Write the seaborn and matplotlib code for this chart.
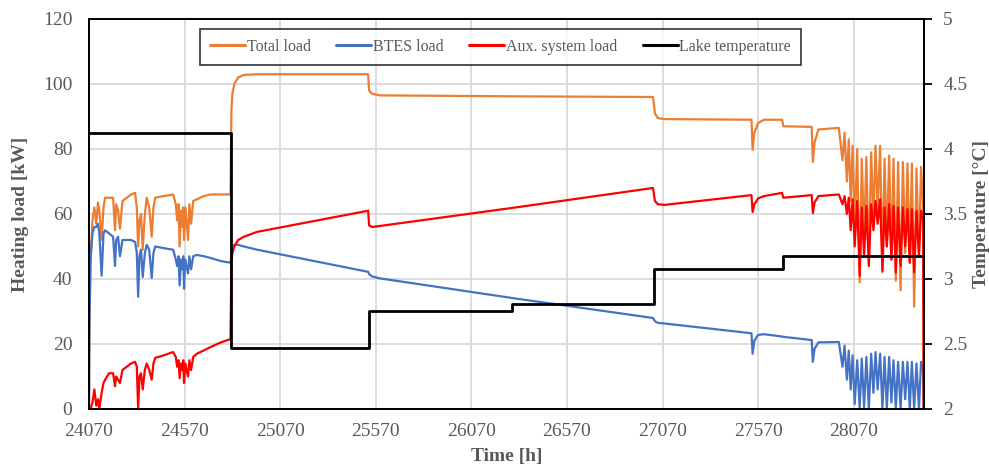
import matplotlib
matplotlib.use("Agg")
import matplotlib.pyplot as plt
import seaborn as sns
import pandas as pd

# ---------------- data ----------------
hours = [
    24070, 24072, 24078, 24088, 24098, 24108, 24117, 24124, 24136, 24146,
    24154, 24175, 24196, 24206, 24212, 24222, 24232, 24245, 24290, 24311,
    24320, 24327, 24334, 24342, 24351, 24362, 24372, 24385, 24398, 24407,
    24416, 24460, 24510, 24524, 24531, 24538, 24544, 24551, 24557, 24563,
    24567, 24573, 24580, 24588, 24595, 24604, 24615, 24634, 24670, 24704,
    24760, 24810,
    24815, 24820, 24830, 24850, 24880, 24950, 25530,
    25535, 25550, 25590, 26300, 27020,
    27030, 27045, 27080, 27535, 27541, 27550, 27570, 27600, 27695, 27702,
    27850, 27856, 27865, 27885, 27992,
    28011, 28022, 28034, 28044, 28054, 28064, 28075, 28088, 28101, 28112,
    28124, 28136, 28149, 28161, 28173, 28184, 28195, 28208, 28220, 28231,
    28243, 28255, 28267, 28278, 28290, 28302, 28315, 28327, 28339, 28351,
    28363, 28374, 28386, 28398, 28411, 28422, 28433, 28436,
]

total_load = [
    0, 25, 46, 58, 62, 57, 63.5, 61, 52, 62,
    65, 65, 65, 55, 63, 61, 55.5, 64, 66, 66.5,
    62, 50, 58, 60, 49, 60, 65, 62, 53, 62,
    65, 65.5, 66, 63, 58, 63, 50, 61, 56, 62,
    52, 62, 58, 52, 63, 57, 64, 64.5, 65.5, 66,
    66, 66,
    92, 97, 100, 102, 102.8, 103, 103,
    98, 97, 96.5, 96.2, 96,
    91, 89.5, 89.2, 89, 79.7, 85, 88, 89, 89, 87,
    86.8, 76, 82, 86, 86.5,
    76.5, 85, 70, 83, 64, 81, 55, 80, 39, 77,
    52, 77.5, 45, 79, 58, 81, 61, 81, 42, 77,
    50, 78, 46, 77, 39.5, 76, 36.5, 76, 48, 75.5,
    45, 75.5, 31.5, 74, 47, 74.5, 62, 0,
]

btes_load = [
    0, 25, 46, 54, 56, 56, 57, 54, 41, 54,
    55, 54, 53, 44, 52, 53, 47, 52, 52, 51.4,
    48, 34.5, 47, 49, 40.6, 48, 50.5, 49, 40.3, 48,
    50, 49.5, 49, 46, 44, 47, 38, 46, 43, 47,
    37, 46, 44, 41.7, 47, 43, 47, 47.4, 47, 46.5,
    45.5, 45,
    47, 49, 50.5, 50.5, 50, 49, 42.2,
    41.5, 40.8, 40.2, 34, 28,
    27, 26.5, 26.3, 23.3, 17, 21, 22.8, 23, 22.3, 22.2,
    21.2, 14.5, 18.5, 20.5, 20.6,
    13, 19.5, 9, 18, 6, 16.5, 1.5, 15, 0, 15.5,
    0.5, 16, 0, 17, 5, 17.5, 6, 17, 0, 16,
    0, 16, 2, 15, 0, 14.5, 0, 14.5, 3, 14.5,
    0, 14.5, 0, 14, 0, 14.5, 12, 0,
]

aux_load = [
    0, 0, 0, 2, 6, 1, 3, 0, 5, 8,
    9, 11, 11, 7, 10, 9, 8, 12, 14, 14.5,
    13, 0, 10, 11, 6, 12, 14, 12, 9, 14,
    15.7, 16.5, 17.5, 16, 13, 15, 9.5, 14, 12, 15,
    8, 14, 12, 10, 15, 12, 16, 17, 18, 19,
    20.5, 21.5,
    45, 48, 50, 52, 53, 54.5, 61,
    56.5, 56, 56.3, 62, 68,
    64, 63, 62.8, 65.8, 60.6, 63, 64.8, 65.5, 66.5, 65,
    65.8, 60.3, 63.5, 65.5, 66,
    63, 65.5, 60, 65, 55, 64.5, 50, 64, 41, 62,
    47, 62.5, 44, 63, 55, 64, 57, 64.5, 42.5, 62,
    50, 63, 46, 62.5, 42, 62, 44, 62, 50, 61.5,
    45, 61.5, 42, 61, 47, 61, 58, 0,
]

lake_hours = [24070, 24813, 25536, 26285, 27023, 27699, 28436]
lake_temp = [4.12, 2.47, 2.75, 2.81, 3.08, 3.18, 3.18]

x_ticks = [24070, 24570, 25070, 25570, 26070, 26570, 27070, 27570, 28070]
left_ticks = [0, 20, 40, 60, 80, 100, 120]
right_ticks = [2, 2.5, 3, 3.5, 4, 4.5, 5]

# ---------------- styling ----------------
sns.set_style("white")
plt.rcParams["font.family"] = ["Liberation Serif", "DejaVu Serif"]

GRAY = "#595959"
C_TOTAL = "#ED7D31"
C_BTES = "#4472C4"
C_AUX = "#FF0000"

df = pd.DataFrame({"h": hours, "total": total_load,
                   "btes": btes_load, "aux": aux_load})
lake = pd.DataFrame({"h": lake_hours, "t": lake_temp})

fig, ax = plt.subplots(figsize=(9.89, 4.69), dpi=100)
fig.subplots_adjust(left=0.090, right=0.934, top=0.9595, bottom=0.128)

sns.lineplot(data=df, x="h", y="total", ax=ax, color=C_TOTAL, lw=1.6,
             estimator=None, sort=False, label="Total load")
sns.lineplot(data=df, x="h", y="btes", ax=ax, color=C_BTES, lw=1.6,
             estimator=None, sort=False, label="BTES load")
sns.lineplot(data=df, x="h", y="aux", ax=ax, color=C_AUX, lw=1.6,
             estimator=None, sort=False, label="Aux. system load")

ax2 = ax.twinx()
sns.lineplot(data=lake, x="h", y="t", ax=ax2, color="black", lw=2.0,
             estimator=None, sort=False, drawstyle="steps-post",
             label="Lake temperature")

ax.set_xlim(24070, 28436)
ax.set_ylim(0, 120)
ax2.set_ylim(2, 5)
ax.set_xticks(x_ticks)
ax.set_yticks(left_ticks)
ax2.set_yticks(right_ticks)
ax2.set_yticklabels([f"{v:g}" for v in right_ticks])

ax.grid(True, color="#d9d9d9", lw=1.3)
ax.set_axisbelow(True)

for a in (ax, ax2):
    for s in a.spines.values():
        s.set_color("black")
        s.set_linewidth(1.3)

ax.tick_params(axis="x", length=0, pad=10, labelsize=14, labelcolor=GRAY)
ax.tick_params(axis="y", length=0, pad=12, labelsize=14, labelcolor=GRAY)
ax2.tick_params(axis="y", length=6, width=1.3, direction="out", color="black",
                pad=8, labelsize=14, labelcolor=GRAY)

ax.set_xlabel("Time [h]", fontsize=14, fontweight="bold", color=GRAY, labelpad=6)
ax.set_ylabel("Heating load [kW]", fontsize=14, fontweight="bold", color=GRAY, labelpad=10)
ax2.set_ylabel("Temperature [°C]", fontsize=14, fontweight="bold", color=GRAY, labelpad=4)

ax.get_legend().remove()
h1, l1 = ax.get_legend_handles_labels()
h2, l2 = ax2.get_legend_handles_labels()
leg = ax2.legend(h1 + h2, l1 + l2, loc="center", bbox_to_anchor=(0.493, 0.928),
                 ncol=4, fontsize=11.5, frameon=True, fancybox=False,
                 edgecolor="black", handlelength=2.2, handletextpad=0.1,
                 columnspacing=1.6, borderpad=0.6, labelcolor=GRAY)
leg.get_frame().set_linewidth(1.2)
for line in leg.get_lines():
    line.set_linewidth(2.2)

fig.savefig("out.png", dpi=100)
